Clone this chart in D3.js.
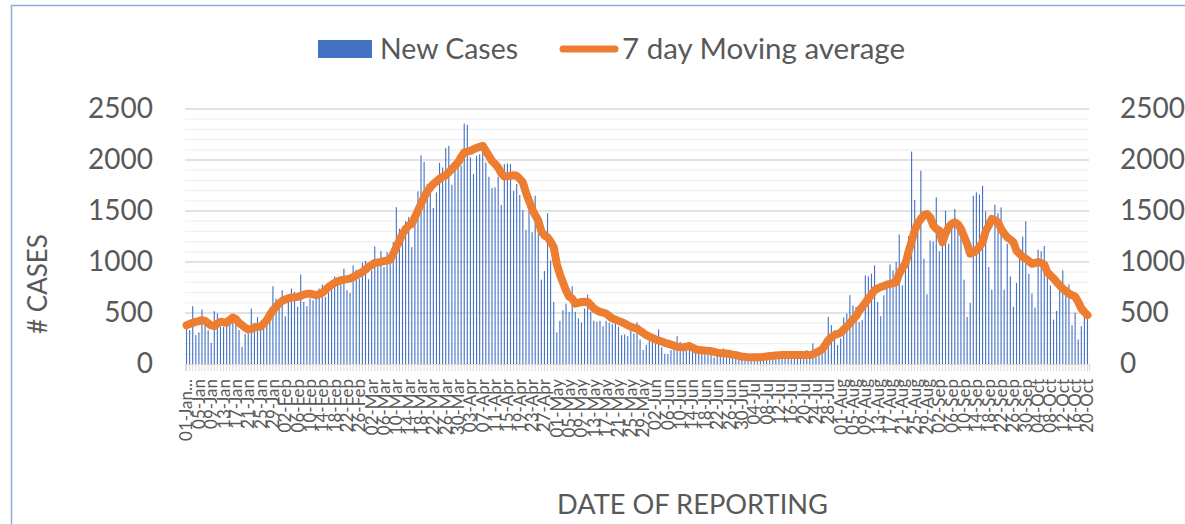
<!DOCTYPE html>
<html>
<head>
<meta charset="utf-8">
<script src="https://cdn.jsdelivr.net/npm/d3@7"></script>
<style>
  body { margin: 0; background: #fff; }
  text { font-family: Lato, "Open Sans", sans-serif; fill: #595959; }
</style>
</head>
<body>
<svg id="chart"></svg>
<script>
// daily new cases, 01-Jan to 20-Oct
const newCases = [
  414, 332, 567, 283, 309, 534, 381, 332, 208, 518,
  495, 365, 365, 456, 430, 479, 397, 332, 169, 293,
  300, 544, 404, 459, 397, 414, 495, 534, 762, 642,
  599, 723, 469, 609, 739, 707, 560, 876, 609, 567,
  642, 625, 664, 739, 778, 658, 700, 811, 860, 827,
  847, 935, 723, 697, 967, 925, 837, 993, 1010, 831,
  918, 1153, 967, 1107, 951, 1098, 984, 1195, 1537, 1326,
  1349, 1400, 1440, 1146, 1478, 1693, 2047, 1982, 1764, 1725,
  1530, 1683, 1973, 1927, 2116, 2139, 1758, 1960, 1999, 1943,
  2357, 2344, 2025, 1862, 2041, 2057, 2090, 1976, 1836, 1725,
  1732, 1836, 1559, 1960, 1966, 1960, 1699, 1764, 1657, 1510,
  1315, 1504, 1292, 1650, 1276, 827, 911, 1478, 1016, 609,
  309, 423, 527, 592, 511, 762, 511, 446, 407, 544,
  680, 511, 423, 413, 423, 371, 423, 404, 391, 404,
  365, 283, 290, 273, 332, 299, 407, 241, 137, 186,
  234, 218, 202, 339, 163, 98, 98, 137, 218, 273,
  218, 137, 137, 143, 120, 120, 98, 98, 98, 88,
  88, 65, 88, 88, 153, 120, 60, 75, 55, 90,
  104, 70, 45, 60, 50, 75, 62, 80, 70, 90,
  85, 95, 70, 100, 80, 95, 75, 90, 85, 100,
  90, 137, 78, 202, 72, 130, 104, 160, 462, 381,
  332, 186, 251, 456, 495, 674, 576, 560, 413, 430,
  869, 859, 885, 967, 609, 469, 674, 804, 977, 918,
  999, 1270, 771, 1022, 1253, 2083, 1608, 1292, 1895, 1032,
  684, 1211, 1204, 1634, 1107, 1211, 1504, 1178, 1406, 1520,
  1380, 1325, 827, 462, 599, 1650, 1683, 1660, 1748, 1497,
  951, 729, 1562, 1478, 1536, 729, 1178, 859, 560, 794,
  1055, 1250, 1400, 885, 690, 553, 1120, 1107, 1156, 853,
  771, 436, 521, 794, 918, 739, 781, 381, 501, 241,
  371, 521, 469
]

// 7 day moving average, as drawn
const movingAvg = [
  381, 392, 404, 412, 420, 430, 423, 400, 378, 371,
  395, 414, 410, 404, 430, 456, 440, 404, 380, 355,
  339, 345, 358, 362, 365, 395, 430, 480, 527, 560,
  592, 619, 632, 645, 651, 655, 658, 668, 680, 688,
  690, 682, 674, 685, 697, 725, 755, 775, 795, 810,
  821, 826, 832, 837, 852, 869, 885, 902, 925, 951,
  972, 990, 996, 1000, 1008, 1015, 1022, 1080, 1146, 1210,
  1276, 1320, 1358, 1374, 1440, 1504, 1570, 1634, 1690, 1732,
  1765, 1790, 1815, 1835, 1850, 1880, 1911, 1945, 1976, 2030,
  2074, 2082, 2090, 2105, 2118, 2130, 2139, 2090, 2040, 1992,
  1960, 1927, 1870, 1838, 1842, 1846, 1850, 1846, 1815, 1781,
  1680, 1600, 1520, 1460, 1406, 1300, 1260, 1243, 1200, 1146,
  980, 880, 800, 720, 660, 641, 592, 600, 609, 610,
  609, 580, 544, 525, 511, 503, 495, 470, 446, 435,
  423, 410, 397, 380, 365, 355, 348, 325, 305, 283,
  270, 255, 241, 230, 220, 208, 200, 190, 180, 169,
  166, 163, 170, 176, 160, 145, 137, 135, 132, 130,
  125, 118, 111, 108, 106, 104, 98, 92, 88, 80,
  72, 70, 67, 65, 65, 65, 65, 70, 74, 78,
  80, 84, 86, 88, 88, 88, 88, 88, 88, 88,
  88, 88, 88, 95, 111, 125, 143, 185, 234, 260,
  283, 295, 306, 340, 365, 400, 436, 470, 520, 560,
  600, 641, 680, 723, 740, 755, 765, 778, 785, 794,
  800, 885, 940, 983, 1100, 1200, 1309, 1380, 1423, 1460,
  1471, 1439, 1360, 1325, 1309, 1195, 1280, 1340, 1375, 1390,
  1370, 1325, 1250, 1178, 1081, 1095, 1113, 1150, 1195, 1300,
  1358, 1423, 1410, 1390, 1325, 1280, 1243, 1220, 1195, 1110,
  1081, 1050, 1032, 1010, 983, 990, 1000, 990, 975, 900,
  869, 840, 804, 770, 739, 715, 690, 675, 660, 610,
  544, 510, 479
]

// every 4th day gets a label
const tickLabels = [
  "01-Jan...", "05-Jan", "09-Jan", "13-Jan", "17-Jan", "21-Jan", "25-Jan", "29-Jan",
  "02-Feb", "06-Feb", "10-Feb", "14-Feb", "18-Feb", "22-Feb", "26-Feb",
  "02-Mar", "06-Mar", "10-Mar", "14-Mar", "18-Mar", "22-Mar", "26-Mar", "30-Mar",
  "03-Apr", "07-Apr", "11-Apr", "15-Apr", "19-Apr", "23-Apr", "27-Apr",
  "01-May", "05-May", "09-May", "13-May", "17-May", "21-May", "25-May", "29-May",
  "02-Jun", "06-Jun", "10-Jun", "14-Jun", "18-Jun", "22-Jun", "26-Jun", "30-Jun",
  "04-Jul", "08-Jul", "12-Jul", "16-Jul", "20-Jul", "24-Jul", "28-Jul",
  "01-Aug", "05-Aug", "09-Aug", "13-Aug", "17-Aug", "21-Aug", "25-Aug", "29-Aug",
  "02-Sep", "06-Sep", "10-Sep", "14-Sep", "18-Sep", "22-Sep", "26-Sep", "30-Sep",
  "04-Oct", "08-Oct", "12-Oct", "16-Oct", "20-Oct"
]
const tickEvery = 4
const yTicks = [0, 500, 1000, 1500, 2000, 2500]

const width = 1185, height = 524
const plot = {left: 185, right: 1089, top: 109, bottom: 364}

const svg = d3.select("#chart")
  .attr("width", width)
  .attr("height", height)

svg.append("rect")
  .attr("width", width).attr("height", height)
  .attr("fill", "#fff")

// chart border (only top and left are in frame)
svg.append("rect")
  .attr("x", 11.5).attr("y", 5.5)
  .attr("width", width).attr("height", height)
  .attr("fill", "none")
  .attr("stroke", "#8eaadb")
  .attr("stroke-width", 1.5)

const days = d3.range(newCases.length)

const x = d3.scaleBand()
  .domain(days)
  .range([plot.left, plot.right])
  .paddingInner(0.64)
  .paddingOuter(0.32)

const y = d3.scaleLinear()
  .domain([0, 2500])
  .range([plot.bottom, plot.top])

// gridlines: light every 100, darker every 500
svg.append("g")
  .selectAll("line")
  .data(d3.range(100, 2501, 100))
  .enter()
  .append("line")
  .attr("x1", plot.left).attr("x2", plot.right)
  .attr("y1", d => y(d)).attr("y2", d => y(d))
  .attr("stroke", d => d % 500 == 0 ? "#d9d9d9" : "#f0f0f0")
  .attr("stroke-width", d => d % 500 == 0 ? 1.5 : 1.2)

// bars
svg.append("g")
  .selectAll("rect")
  .data(days)
  .enter()
  .append("rect")
  .attr("x", d => x(d))
  .attr("width", x.bandwidth())
  .attr("y", d => y(newCases[d]))
  .attr("height", d => y(0) - y(newCases[d]))
  .attr("fill", "#4472c4")

// x axis: a small tick for every day
const xAxis = svg.append("g")
  .attr("transform", "translate(0," + plot.bottom + ")")
  .call(d3.axisBottom(x).tickSize(7).tickFormat(""))
xAxis.select(".domain").attr("stroke", "#d9d9d9")
xAxis.selectAll(".tick line").attr("stroke", "#d9d9d9")

svg.append("g")
  .selectAll("text")
  .data(tickLabels)
  .enter()
  .append("text")
  .attr("transform", (d, i) => "translate(" + (x(i * tickEvery) + x.bandwidth() / 2) + "," + (plot.bottom + 15) + ")rotate(-90)")
  .attr("text-anchor", "end")
  .attr("dy", "0.35em")
  .style("font-size", "17px")
  .text(d => d)

// y axes, left and right
const yLeft = svg.append("g")
  .attr("transform", "translate(" + (plot.left - 29) + ",0)")
  .call(d3.axisLeft(y).tickValues(yTicks).tickSize(0).tickFormat(d3.format("d")))
const yRight = svg.append("g")
  .attr("transform", "translate(" + (plot.right + 28) + ",0)")
  .call(d3.axisRight(y).tickValues(yTicks).tickSize(0).tickFormat(d3.format("d")))
;[yLeft, yRight].forEach(g => {
  g.select(".domain").remove()
  g.selectAll("text")
    .attr("fill", "#595959")
    .style("font-family", "Lato, 'Open Sans', sans-serif")
    .style("font-size", "28px")
})

// moving average line
const line = d3.line()
  .x(d => x(d) + x.bandwidth() / 2)
  .y(d => y(movingAvg[d]))

svg.append("path")
  .datum(days)
  .attr("d", line)
  .attr("fill", "none")
  .attr("stroke", "#ed7d31")
  .attr("stroke-width", 8)
  .attr("stroke-linejoin", "round")
  .attr("stroke-linecap", "round")

// axis titles
svg.append("text")
  .attr("transform", "translate(38,284)rotate(-90)")
  .attr("text-anchor", "middle")
  .attr("dy", "0.35em")
  .style("font-size", "26px")
  .text("# CASES")

svg.append("text")
  .attr("x", 557).attr("y", 505)
  .attr("dy", "0.35em")
  .attr("textLength", 271)
  .attr("lengthAdjust", "spacingAndGlyphs")
  .style("font-size", "26px")
  .text("DATE OF REPORTING")

// legend
const legend = svg.append("g")
legend.append("rect")
  .attr("x", 318).attr("y", 40)
  .attr("width", 54).attr("height", 18)
  .attr("fill", "#4472c4")
legend.append("text")
  .attr("x", 380).attr("y", 49)
  .attr("dy", "0.35em")
  .attr("textLength", 138)
  .attr("lengthAdjust", "spacingAndGlyphs")
  .style("font-size", "28px")
  .text("New Cases")
legend.append("line")
  .attr("x1", 563).attr("x2", 615)
  .attr("y1", 49).attr("y2", 49)
  .attr("stroke", "#ed7d31")
  .attr("stroke-width", 7)
  .attr("stroke-linecap", "round")
legend.append("text")
  .attr("x", 622).attr("y", 49)
  .attr("dy", "0.35em")
  .attr("textLength", 283)
  .attr("lengthAdjust", "spacingAndGlyphs")
  .style("font-size", "28px")
  .text("7 day Moving average")
</script>
</body>
</html>
